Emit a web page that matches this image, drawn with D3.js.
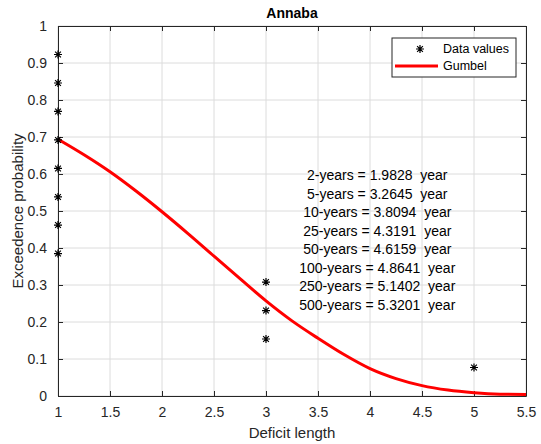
<!DOCTYPE html>
<html>
<head>
<meta charset="utf-8">
<script src="https://cdn.jsdelivr.net/npm/d3@7"></script>
<style>
  body { margin: 0; background: #fff; }
  text { font-family: "Liberation Sans", Arial, sans-serif; fill: #262626; }
</style>
</head>
<body>
<svg id="chart" width="541" height="444"></svg>
<script>
// observed exceedance values (deficit length, probability)
var dataX = [1, 1, 1, 1, 1, 1, 1, 1, 3, 3, 3, 5];
var dataY = [0.923, 0.846, 0.769, 0.692, 0.615, 0.538, 0.462, 0.385, 0.308, 0.231, 0.154, 0.077];

// fitted Gumbel curve
var gumbelX = [1, 1.25, 1.5, 1.75, 2, 2.25, 2.5, 2.75, 3, 3.25, 3.5, 3.75, 4, 4.25, 4.5, 4.75, 5, 5.25, 5.5];
var gumbelY = [0.694, 0.652, 0.606, 0.554, 0.498, 0.439, 0.378, 0.317, 0.257, 0.203, 0.156, 0.112, 0.074, 0.047, 0.028, 0.016, 0.009, 0.005, 0.004];

var returnLabels = [
  "2-years = 1.9828  year",
  "5-years = 3.2645  year",
  "10-years = 3.8094  year",
  "25-years = 4.3191  year",
  "50-years = 4.6159  year",
  "100-years = 4.8641  year",
  "250-years = 5.1402  year",
  "500-years = 5.3201  year"
];

var xTicks = [1, 1.5, 2, 2.5, 3, 3.5, 4, 4.5, 5, 5.5];
var yTicks = [0, 0.1, 0.2, 0.3, 0.4, 0.5, 0.6, 0.7, 0.8, 0.9, 1];

var svg = d3.select("#chart"),
    margin = {top: 26, right: 15, bottom: 48, left: 58},
    width = +svg.attr("width") - margin.left - margin.right,
    height = +svg.attr("height") - margin.top - margin.bottom;

var x = d3.scaleLinear().domain([1, 5.5]).range([0, width]),
    y = d3.scaleLinear().domain([0, 1]).range([height, 0]);

var g = svg.append("g").attr("transform", "translate(" + margin.left + "," + margin.top + ")");

// grid
g.append("g").selectAll("line").data(xTicks).enter().append("line")
  .attr("x1", x).attr("x2", x).attr("y1", 0).attr("y2", height)
  .attr("stroke", "#dcdcdc").attr("stroke-width", 1);
g.append("g").selectAll("line").data(yTicks).enter().append("line")
  .attr("y1", y).attr("y2", y).attr("x1", 0).attr("x2", width)
  .attr("stroke", "#dcdcdc").attr("stroke-width", 1);

// axes
var xAxis = d3.axisBottom(x).tickValues(xTicks).tickSizeInner(-5).tickSizeOuter(0).tickPadding(11)
  .tickFormat(function(d){ return d; });
var yAxis = d3.axisLeft(y).tickValues(yTicks).tickSizeInner(-5).tickSizeOuter(0).tickPadding(11)
  .tickFormat(function(d){ return d; });
var xTop = d3.axisTop(x).tickValues(xTicks).tickSizeInner(-5).tickSizeOuter(0).tickFormat("");
var yRight = d3.axisRight(y).tickValues(yTicks).tickSizeInner(-5).tickSizeOuter(0).tickFormat("");

function styleAxis(sel) {
  sel.selectAll("path").attr("stroke", "#262626");
  sel.selectAll("line").attr("stroke", "#262626");
  sel.selectAll("text").attr("font-size", 14).attr("fill", "#262626")
    .attr("font-family", "Liberation Sans, Arial, sans-serif");
}
g.append("g").attr("transform", "translate(0," + height + ")").call(xAxis).call(styleAxis);
g.append("g").call(yAxis).call(styleAxis);
g.append("g").call(xTop).call(styleAxis);
g.append("g").attr("transform", "translate(" + width + ",0)").call(yRight).call(styleAxis);

// gumbel curve
var gumbel = gumbelX.map(function(d, i){ return {x: d, y: gumbelY[i]}; });
var line = d3.line().x(function(d){ return x(d.x); }).y(function(d){ return y(d.y); })
  .curve(d3.curveMonotoneX);
g.append("path").datum(gumbel).attr("d", line)
  .attr("fill", "none").attr("stroke", "#ff0000").attr("stroke-width", 3);

// asterisk markers
function star(px, py, r) {
  var d = r * 0.72;
  return "M" + (px - r) + "," + py + "L" + (px + r) + "," + py +
         "M" + px + "," + (py - r) + "L" + px + "," + (py + r) +
         "M" + (px - d) + "," + (py - d) + "L" + (px + d) + "," + (py + d) +
         "M" + (px - d) + "," + (py + d) + "L" + (px + d) + "," + (py - d);
}
var pts = dataX.map(function(d, i){ return {x: d, y: dataY[i]}; });
g.append("g").selectAll("path").data(pts).enter().append("path")
  .attr("d", function(d){ return star(x(d.x), y(d.y), 4); })
  .attr("stroke", "#000").attr("stroke-width", 1.2).attr("fill", "none");

// return period text
g.append("g").selectAll("text").data(returnLabels).enter().append("text")
  .attr("x", x(4.07))
  .attr("y", function(d, i){ return y(0.597) + i * 18.5; })
  .attr("dy", "0.35em")
  .attr("text-anchor", "middle")
  .attr("font-size", 14)
  .style("fill", "#000")
  .style("white-space", "pre")
  .text(function(d){ return d; });

// legend
var lg = svg.append("g").attr("transform", "translate(392,38)");
lg.append("rect").attr("width", 124).attr("height", 39)
  .attr("fill", "#fff").attr("stroke", "#262626").attr("stroke-width", 1);
lg.append("path").attr("d", star(28, 11, 4))
  .attr("stroke", "#000").attr("stroke-width", 1.2).attr("fill", "none");
lg.append("line").attr("x1", 3).attr("x2", 46).attr("y1", 28).attr("y2", 28)
  .attr("stroke", "#ff0000").attr("stroke-width", 3);
lg.append("text").attr("x", 51).attr("y", 11).attr("dy", "0.35em").attr("font-size", 12.5)
  .style("fill", "#000").text("Data values");
lg.append("text").attr("x", 51).attr("y", 28).attr("dy", "0.35em").attr("font-size", 12.5)
  .style("fill", "#000").text("Gumbel");

// title and labels
svg.append("text").attr("x", margin.left + width / 2).attr("y", 13).attr("dy", "0.35em")
  .attr("text-anchor", "middle").attr("font-size", 14).attr("font-weight", "bold")
  .style("fill", "#000").text("Annaba");
svg.append("text").attr("x", margin.left + width / 2).attr("y", 433).attr("dy", "0.35em")
  .attr("text-anchor", "middle").attr("font-size", 15).text("Deficit length");
svg.append("text").attr("transform", "translate(18," + (margin.top + height / 2) + ") rotate(-90)")
  .attr("dy", "0.35em").attr("text-anchor", "middle").attr("font-size", 15)
  .text("Exceedence probability");
</script>
</body>
</html>
